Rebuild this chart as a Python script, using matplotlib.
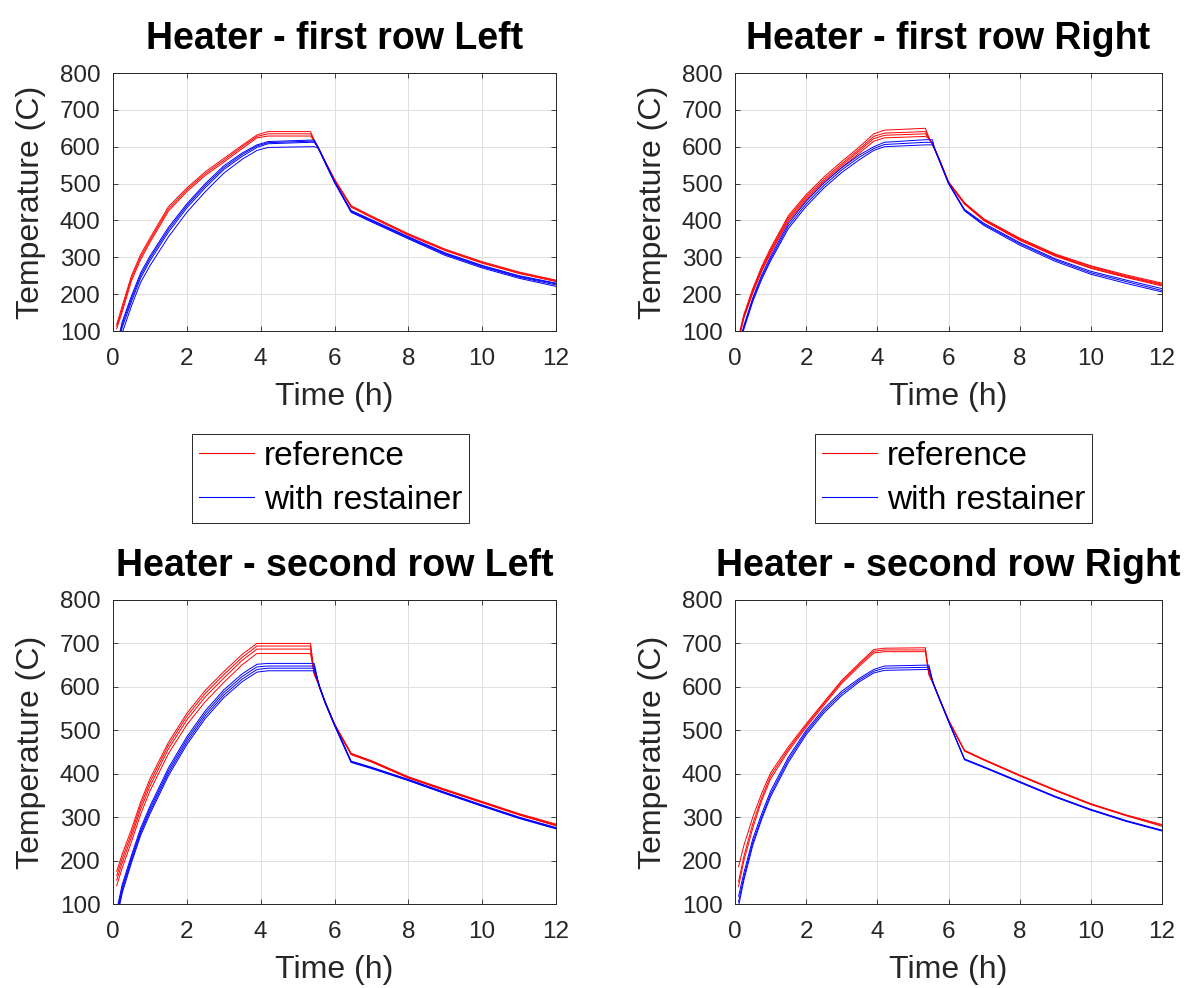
import matplotlib
matplotlib.use("Agg")
import matplotlib.pyplot as plt
from matplotlib.lines import Line2D

plt.rcParams['font.family'] = ['Liberation Sans', 'DejaVu Sans']

# time axis shared by all curves (h)
t_h = [0.1, 0.25, 0.5, 0.75, 1.0, 1.5, 2.0, 2.5, 3.0, 3.5, 3.9, 4.2,
       5.35, 5.45, 5.55, 5.6, 5.75, 6.0, 6.45, 7, 8, 9, 10, 11, 12]

# first row, left heater
fl_ref = [
    [118, 168, 250, 308, 352, 437, 488, 532, 568, 604, 632, 641, 641, 618, 600, 590, 560, 512, 440, 412, 364, 322, 288, 260, 238],
    [112, 160, 243, 301, 346, 431, 483, 527, 563, 600, 628, 635, 635, 617, 599, 589, 559, 511, 438, 410, 362, 320, 286, 258, 236],
    [106, 152, 236, 294, 340, 425, 478, 522, 558, 595, 624, 629, 629, 616, 598, 588, 558, 510, 436, 408, 360, 318, 284, 256, 234],
]
fl_rst = [
    [60, 125, 195, 258, 303, 381, 445, 500, 548, 583, 605, 614, 618, 618, 600, 590, 558, 506, 427, 402, 356, 312, 278, 250, 230],
    [55, 118, 188, 251, 297, 375, 440, 495, 543, 579, 602, 611, 615, 615, 599, 589, 557, 505, 425, 400, 354, 310, 276, 248, 228],
    [50, 110, 180, 244, 290, 368, 434, 489, 538, 574, 598, 608, 612, 612, 598, 588, 556, 504, 424, 398, 352, 308, 274, 246, 225],
    [40, 95, 168, 232, 277, 355, 422, 478, 528, 566, 590, 598, 600, 600, 597, 587, 555, 503, 422, 396, 350, 305, 271, 243, 221],
]

# first row, right heater
fr_ref = [
    [85, 145, 215, 275, 325, 413, 470, 518, 560, 600, 635, 645, 650, 625, 608, 598, 565, 505, 448, 404, 352, 309, 277, 252, 230],
    [80, 141, 211, 270, 320, 408, 465, 512, 554, 594, 628, 637, 641, 624, 607, 597, 564, 504, 447, 402, 350, 307, 275, 249, 227],
    [77, 138, 207, 266, 315, 403, 460, 507, 549, 589, 622, 631, 635, 623, 606, 596, 563, 503, 446, 401, 348, 305, 272, 247, 225],
    [75, 135, 203, 262, 310, 398, 455, 502, 544, 583, 615, 624, 628, 622, 605, 595, 562, 502, 444, 399, 346, 303, 270, 245, 222],
]
fr_rst = [
    [60, 115, 190, 252, 302, 392, 452, 502, 543, 578, 600, 612, 619, 619, 619, 598, 562, 502, 430, 392, 340, 296, 262, 238, 215],
    [55, 110, 185, 246, 296, 385, 445, 495, 537, 572, 595, 606, 612, 612, 612, 597, 561, 501, 428, 389, 337, 293, 258, 234, 210],
    [50, 105, 180, 240, 290, 378, 438, 488, 530, 565, 590, 600, 605, 605, 605, 596, 560, 500, 426, 386, 333, 289, 254, 229, 206],
]

# second row, left heater
sl_ref = [
    [175, 215, 272, 335, 388, 472, 539, 592, 635, 675, 700, 700, 700, 632, 612, 600, 565, 515, 447, 430, 393, 364, 336, 308, 284],
    [165, 205, 263, 327, 380, 465, 532, 585, 628, 668, 694, 694, 694, 631, 611, 599, 564, 514, 446, 429, 392, 363, 335, 307, 282],
    [155, 195, 254, 318, 371, 457, 524, 577, 620, 661, 687, 687, 687, 630, 610, 598, 563, 513, 445, 428, 391, 362, 334, 306, 281],
    [142, 183, 243, 307, 360, 446, 513, 566, 610, 651, 677, 677, 677, 629, 609, 597, 562, 512, 444, 427, 390, 361, 333, 305, 280],
]
sl_rst = [
    [85, 145, 212, 275, 325, 413, 485, 545, 593, 630, 652, 654, 654, 654, 615, 600, 565, 514, 429, 415, 387, 357, 328, 300, 276],
    [78, 138, 206, 269, 319, 407, 479, 539, 587, 624, 646, 648, 648, 648, 614, 599, 564, 513, 428, 414, 386, 356, 327, 299, 275],
    [72, 132, 200, 264, 313, 401, 473, 533, 581, 618, 640, 643, 643, 643, 613, 598, 563, 512, 427, 413, 385, 355, 326, 298, 274],
    [65, 125, 195, 258, 307, 395, 467, 527, 575, 612, 634, 637, 637, 637, 612, 597, 562, 511, 426, 412, 384, 354, 325, 297, 273],
]

# second row, right heater
sr_ref = [
    [186, 235, 300, 355, 402, 462, 515, 565, 615, 655, 686, 689, 690, 630, 612, 603, 573, 524, 454, 433, 397, 363, 331, 305, 283],
    [151, 210, 285, 345, 395, 457, 511, 562, 612, 652, 682, 685, 685, 629, 611, 602, 572, 523, 453, 432, 396, 362, 330, 304, 281],
    [140, 200, 275, 338, 388, 452, 507, 558, 608, 648, 678, 681, 681, 628, 610, 601, 571, 522, 452, 431, 395, 361, 329, 303, 279],
]
sr_rst = [
    [118, 172, 250, 308, 360, 438, 500, 550, 590, 620, 640, 648, 650, 650, 615, 603, 572, 522, 434, 416, 382, 348, 318, 292, 270],
    [105, 162, 242, 300, 353, 432, 495, 545, 585, 616, 636, 643, 645, 645, 614, 602, 571, 521, 433, 415, 381, 347, 317, 291, 269],
    [95, 155, 235, 295, 347, 426, 490, 540, 580, 612, 632, 638, 640, 640, 613, 601, 570, 520, 432, 414, 380, 346, 316, 290, 268],
]

titles = ["Heater - first row Left", "Heater - first row Right",
          "Heater - second row Left", "Heater - second row Right"]
series_labels = ["reference", "with restainer"]
x_ticks = [0, 2, 4, 6, 8, 10, 12]
y_ticks = [100, 200, 300, 400, 500, 600, 700, 800]

W, H = 1201, 988
ink = '#262626'

fig = plt.figure(figsize=(W / 100, H / 100), dpi=100)

# axes boxes in pixels: left, top, right, bottom
boxes = [(113, 73, 556, 331), (735, 73, 1162, 331),
         (113, 600, 556, 904), (735, 600, 1162, 904)]
panels = [(fl_ref, fl_rst), (fr_ref, fr_rst), (sl_ref, sl_rst), (sr_ref, sr_rst)]

for (l, t, r, b), (ref, rst), title in zip(boxes, panels, titles):
    ax = fig.add_axes([l / W, 1 - b / H, (r - l) / W, (b - t) / H])
    for y in ref:
        ax.plot(t_h, y, color='red', lw=0.7)
    for y in rst:
        ax.plot(t_h, y, color='blue', lw=0.7)
    ax.set_xlim(0, 12)
    ax.set_ylim(100, 800)
    ax.set_xticks(x_ticks)
    ax.set_yticks(y_ticks)
    ax.grid(True, color='#dedede', lw=0.7)
    ax.set_axisbelow(True)
    ax.tick_params(direction='in', top=True, right=True, length=3.5, width=0.6,
                   color=ink, labelcolor=ink, labelsize=17.5)
    ax.tick_params(axis='x', pad=12)
    ax.tick_params(axis='y', pad=9)
    for s in ax.spines.values():
        s.set_color(ink)
        s.set_linewidth(0.7)
    ax.set_xlabel("Time (h)", fontsize=23, color=ink, labelpad=9)
    ax.set_ylabel("Temperature (C)", fontsize=23, color=ink, labelpad=10)
    ax.set_title(title, fontsize=27, fontweight='bold', pad=17)

handles = [Line2D([], [], color='red', lw=0.8), Line2D([], [], color='blue', lw=0.8)]
for lx in (192, 815):
    leg = fig.legend(handles, series_labels, loc='upper left',
                     bbox_to_anchor=(lx / W, 1 - 434 / H), fontsize=24,
                     frameon=True, fancybox=False, framealpha=1, edgecolor=ink,
                     handlelength=1.65, handletextpad=0.3, borderpad=0.2,
                     labelspacing=0.4, borderaxespad=0)
    leg.get_frame().set_linewidth(0.7)

fig.savefig("out.png", dpi=100)
